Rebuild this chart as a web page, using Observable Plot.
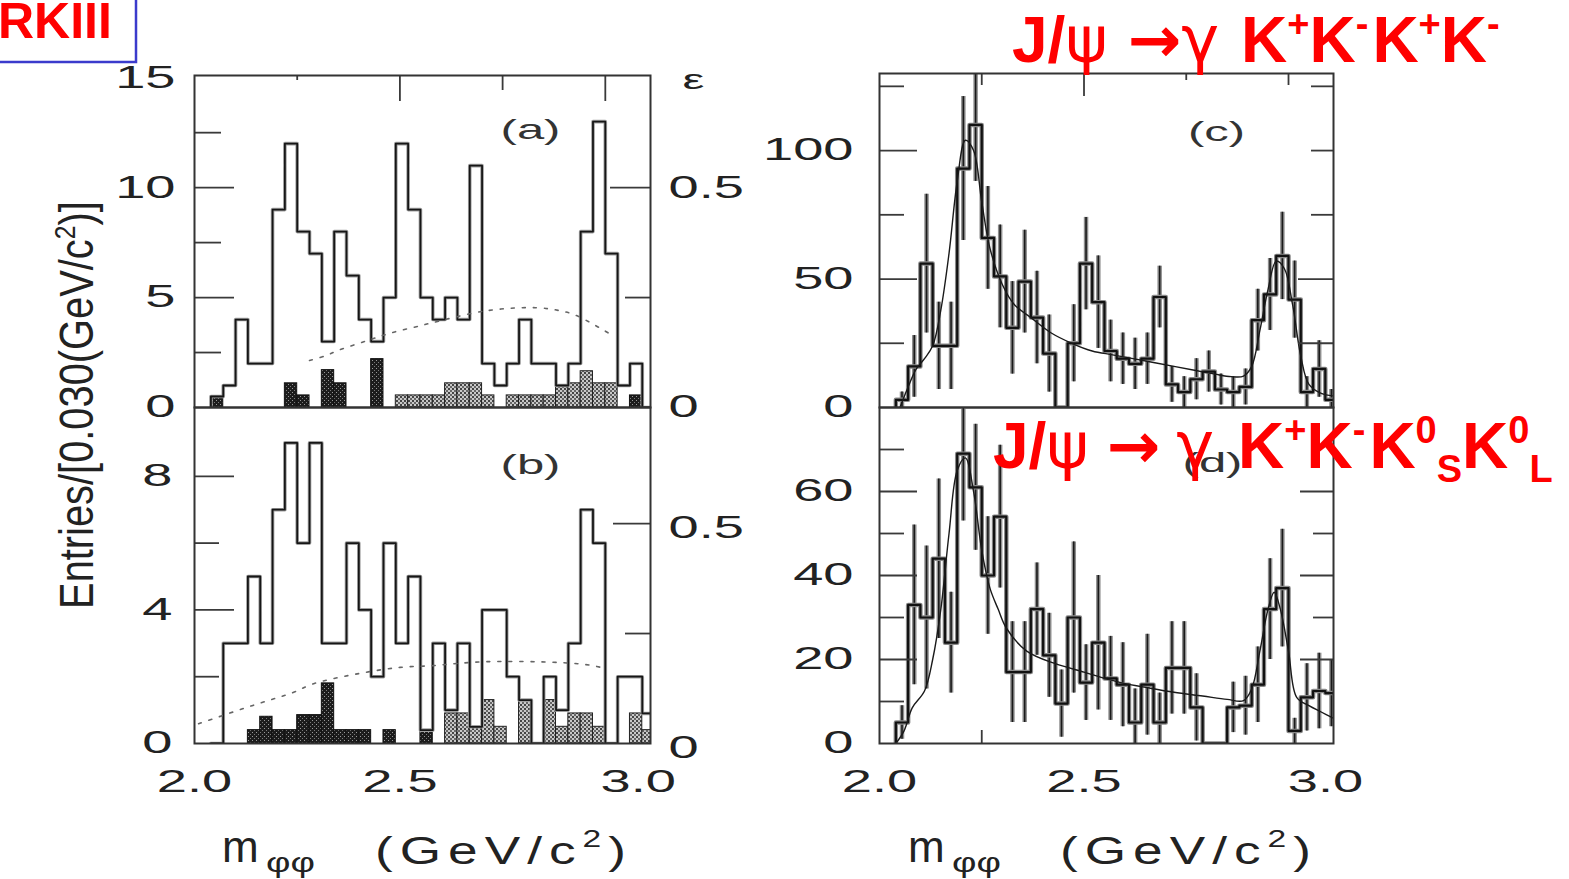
<!DOCTYPE html>
<html>
<head>
<meta charset="utf-8">
<script src="https://cdn.jsdelivr.net/npm/d3@7"></script>
<script src="https://cdn.jsdelivr.net/npm/@observablehq/plot@0.6"></script>
<style>
  html, body { margin: 0; padding: 0; background: #fff; }
  #page { position: relative; width: 1569px; height: 879px; overflow: hidden; background: #fff; }
  #page > svg { position: absolute; left: 0; top: 0; }
</style>
</head>
<body>
<svg width="0" height="0" style="position:absolute">
  <defs>
    <pattern id="shadeDark" width="4" height="4" patternUnits="userSpaceOnUse">
      <rect width="4" height="4" fill="#1c1c1c"/>
      <rect x="0" y="0" width="1" height="1" fill="#9a9a9a"/>
      <rect x="2" y="2" width="1" height="1" fill="#7a7a7a"/>
    </pattern>
    <pattern id="shadeGrey" width="4" height="4" patternUnits="userSpaceOnUse">
      <rect width="4" height="4" fill="#c8c8c8"/>
      <rect x="0" y="0" width="2" height="2" fill="#444"/>
      <rect x="2" y="2" width="2" height="2" fill="#666"/>
    </pattern>
  </defs>
</svg>
<div id="page"></div>
<script>
// ---- binning: lower edges of the 0.030 GeV/c^2 mass bins ----
const binLow = [2.04, 2.07, 2.10, 2.13, 2.16, 2.19, 2.22, 2.25, 2.28, 2.31, 2.34, 2.37,
                2.40, 2.43, 2.46, 2.49, 2.52, 2.55, 2.58, 2.61, 2.64, 2.67, 2.70, 2.73,
                2.76, 2.79, 2.82, 2.85, 2.88, 2.91, 2.94, 2.97, 3.00, 3.03, 3.06, 3.09];
const binWidth = 0.03;

// (a) entries per bin and the shaded sideband estimate
const entriesA  = [0.5, 1, 4, 2, 2, 9, 12, 8, 7, 3, 8, 6, 4, 3, 5, 12, 9, 5, 4, 5, 4, 11,
                   2, 1, 2, 4, 2, 2, 1, 2, 8, 13, 7, 1, 2, 0];
const sidebandA = [0.5, 0, 0, 0, 0, 0, 1.1, 0.55, 0, 1.7, 1.1, 0, 0, 2.2, 0, 0.55, 0.55,
                   0.55, 0.55, 1.1, 1.1, 1.1, 0.55, 0, 0.55, 0.55, 0.55, 0.55, 1, 1.1,
                   1.65, 1.1, 1.1, 0, 0.55, 0];

// (b) entries per bin and the shaded sideband estimate
const entriesB  = [0, 3, 3, 5, 3, 7, 9, 6, 9, 3, 3, 6, 4, 2, 6, 3, 5, 0.4, 3, 1, 3, 0.5,
                   4, 4, 2, 1.3, 0, 2, 1, 3, 7, 6, 0, 2, 2, 0.9];
const sidebandB = [0, 0, 0, 0.4, 0.8, 0.4, 0.4, 0.85, 0.85, 1.8, 0.4, 0.4, 0.4, 0, 0.4,
                   0, 0, 0.4, 0, 0.9, 0.9, 0.5, 1.3, 0.5, 0, 1.3, 0, 1.3, 0.5, 0.9, 0.9,
                   0.5, 0, 0, 0.9, 0.4];

// efficiency curves (right-hand epsilon axis)
const effMassA = [2.28, 2.32, 2.35, 2.42, 2.48, 2.55, 2.58, 2.71, 2.83, 2.89, 2.93, 3.01];
const effA     = [0.107, 0.118, 0.130, 0.152, 0.170, 0.186, 0.193, 0.220, 0.227, 0.220, 0.209, 0.168];
const effMassB = [2.01, 2.14, 2.24, 2.29, 2.40, 2.50, 2.58, 2.64, 2.71, 2.89, 2.97, 3.00];
const effB     = [0.045, 0.086, 0.116, 0.136, 0.159, 0.173, 0.177, 0.182, 0.186, 0.184, 0.177, 0.170];
const effScaleA = 20;     // entries per unit of epsilon, panel (a)
const effScaleB = 13.17;  // entries per unit of epsilon, panel (b)
const epsTicks = [0, 0.5];

// (c) J/psi -> gamma K+K-K+K- : entries, errors and fit
const entriesC = [3, 16, 56, 24, 24, 93, 110, 66, 51, 31, 49, 35, 21, 0, 25, 56, 41, 22,
                  19, 17, 19, 43, 9, 6, 11, 14, 7, 6, 8, 34, 44, 59, 42, 6, 15, 3];
const errorsC  = [3, 12, 27, 17, 17, 28, 22, 20, 20, 18, 20, 18, 15, 0, 15, 18, 18, 12,
                  10, 10, 10, 12, 7, 6, 8, 8, 6, 6, 7, 12, 14, 17, 15, 6, 11, 4];
const fitMassC = [2.05, 2.07, 2.09, 2.11, 2.13, 2.15, 2.17, 2.19, 2.21, 2.23, 2.25, 2.27,
                  2.30, 2.33, 2.37, 2.42, 2.47, 2.52, 2.57, 2.62, 2.67, 2.72, 2.77, 2.82,
                  2.86, 2.89, 2.91, 2.93, 2.95, 2.97, 2.99, 3.01, 3.03, 3.05, 3.08, 3.11];
const fitValueC = [0, 8, 15, 19, 24, 38, 60, 88, 104, 100, 80, 62, 48, 40, 35, 29, 25, 22,
                   20.5, 19, 17.5, 16, 14.5, 13, 12, 12.2, 16, 30, 46, 57, 54, 40, 20, 9, 5.5, 4.5];

// (d) J/psi -> gamma K+K-K0S K0L : entries, errors and fit
const entriesD = [5, 33, 30, 44, 24, 69, 61, 40, 54, 17, 17, 32, 21, 9.5, 30, 14.5, 24,
                  15.5, 14, 5, 14, 5, 18, 18, 8.6, 0, 0, 8.6, 9, 14, 32, 37, 3, 11, 12.5, 12];
const errorsD  = [4, 19, 17, 19, 12, 16, 15, 14, 17, 12, 12, 11, 10, 8, 18, 9, 16, 10, 10,
                  8, 12, 7, 11, 11, 8, 0, 0, 6, 7, 9, 12, 14, 3, 8, 9, 8];
const fitMassD = [2.04, 2.06, 2.08, 2.11, 2.13, 2.15, 2.17, 2.19, 2.21, 2.23, 2.25, 2.27,
                  2.29, 2.31, 2.36, 2.43, 2.50, 2.54, 2.59, 2.66, 2.72, 2.79, 2.85, 2.89,
                  2.91, 2.93, 2.95, 2.965, 2.98, 3.00, 3.02, 3.05, 3.08, 3.11];
const fitValueD = [0, 3, 8.5, 12.5, 20, 32, 50, 65, 68, 60, 46, 37, 32, 27.5, 22, 19, 17,
                   15.8, 14.5, 13.2, 12.2, 11.3, 10.5, 10.2, 13, 22, 32, 36, 32, 22, 11, 9, 7.5, 6];

// axis tick values
const xLabelTicks = [2.0, 2.5];
const xEndTick = [3.0];

// ---------------------------------------------------------------
const W = 1569, H = 879;
const xDomain = [2.0, 3.11];
const page = document.getElementById("page");
const fmt1 = d3.format(".1f");
const epsFormat = v => (v === 0 ? "0" : fmt1(v));
const sans = "'Liberation Sans', Arial, Helvetica, sans-serif";

function makeBins(counts, extra = {}) {
  return binLow.map((lo, i) => {
    const b = {lo, hi: lo + binWidth, mid: lo + binWidth / 2, v: counts[i]};
    for (const [k, arr] of Object.entries(extra)) b[k] = arr[i];
    return b;
  });
}

// outline of a histogram as a stepped path that starts and ends on the baseline
function stepPoints(counts) {
  const last = counts.length - 1;
  const pts = [{m: binLow[0], v: 0}];
  counts.forEach((v, i) => pts.push({m: binLow[i], v}));
  pts.push({m: binLow[last] + binWidth, v: counts[last]});
  pts.push({m: binLow[last] + binWidth, v: 0});
  return pts;
}

// the printed figure uses a horizontally stretched lettering
function widenText(svg, k) {
  svg.querySelectorAll("text").forEach(t => {
    const tr = t.getAttribute("transform") || "";
    t.setAttribute("transform", `${tr} scale(${k},1)`);
  });
}

function panel({box, yDomain, marks, ticks}) {
  const [x0, x1, y0, y1] = box;
  const fw = x1 - x0, fh = y1 - y0;
  const st = {stroke: "#3a3a3a", strokeWidth: 1.8};
  const tickMarks = [];
  for (const [vals, len] of ticks.left || []) tickMarks.push(Plot.tickY(vals, {y: d => d, insetRight: fw - len, ...st}));
  for (const [vals, len] of ticks.right || []) tickMarks.push(Plot.tickY(vals, {y: d => d, insetLeft: fw - len, ...st}));
  for (const [vals, len] of ticks.top || []) tickMarks.push(Plot.tickX(vals, {x: d => d, insetBottom: fh - len, ...st}));
  for (const [vals, len] of ticks.bottom || []) tickMarks.push(Plot.tickX(vals, {x: d => d, insetTop: fh - len, ...st}));
  const svg = Plot.plot({
    width: W, height: H,
    marginLeft: x0, marginRight: W - x1, marginTop: y0, marginBottom: H - y1,
    x: {domain: xDomain, axis: null, label: null},
    y: {domain: yDomain, axis: null, label: null},
    style: {background: "transparent", overflow: "visible", fontFamily: sans, color: "#222"},
    marks: [...marks, ...tickMarks, Plot.frame({stroke: "#333", strokeWidth: 2})]
  });
  widenText(svg, 1.75);
  page.appendChild(svg);
}

function histMarks(counts, sideband, darkTest) {
  const bins = makeBins(counts, {s: sideband}).filter(d => d.s > 0);
  const pts = stepPoints(counts);
  return [
    Plot.rectY(bins.filter(d => darkTest(d.lo)), {x1: "lo", x2: "hi", y: "s", fill: "url(#shadeDark)", stroke: "#111", strokeWidth: 1, clip: true}),
    Plot.rectY(bins.filter(d => !darkTest(d.lo)), {x1: "lo", x2: "hi", y: "s", fill: "url(#shadeGrey)", stroke: "#222", strokeWidth: 1, clip: true}),
    Plot.line(pts, {x: "m", y: "v", curve: "step-after", stroke: "#a0a0a0", strokeWidth: 3.6, clip: true}),
    Plot.line(pts, {x: "m", y: "v", curve: "step-after", stroke: "#161616", strokeWidth: 1.8, clip: true})
  ];
}

function dataMarks(counts, errors, fitMass, fitValue) {
  const bins = makeBins(counts, {e: errors}).filter(d => d.e > 0);
  const pts = stepPoints(counts);
  const fit = fitMass.map((m, i) => ({m, v: fitValue[i]}));
  return [
    Plot.ruleX(bins, {x: "mid", y1: d => Math.max(0, d.v - d.e), y2: d => d.v + d.e, stroke: "#8e8e8e", strokeWidth: 4.5, clip: true}),
    Plot.ruleX(bins, {x: "mid", y1: d => Math.max(0, d.v - d.e), y2: d => d.v + d.e, stroke: "#1a1a1a", strokeWidth: 1.6, clip: true}),
    Plot.line(pts, {x: "m", y: "v", curve: "step-after", stroke: "#8a8a8a", strokeWidth: 4.5, clip: true}),
    Plot.line(pts, {x: "m", y: "v", curve: "step-after", stroke: "#111", strokeWidth: 2.2, clip: true}),
    Plot.line(fit, {x: "m", y: "v", curve: "catmull-rom", stroke: "#1a1a1a", strokeWidth: 1.4, clip: true})
  ];
}

const tickLabelStyle = {tickSize: 0, fontSize: 31, label: null};

// (a)
panel({
  box: [194, 650, 75, 407], yDomain: [0, 15.1],
  marks: [
    ...histMarks(entriesA, sidebandA, m => m < 2.47 || m > 3.05),
    Plot.line(effMassA.map((m, i) => ({m, e: effA[i]})), {x: "m", y: d => d.e * effScaleA, curve: "catmull-rom", stroke: "#666", strokeWidth: 1.6, strokeDasharray: "3,8"}),
    Plot.axisY({ticks: [0, 5, 10, 15], anchor: "left", tickPadding: 19, ...tickLabelStyle}),
    Plot.axisY({ticks: epsTicks.map(e => e * effScaleA), anchor: "right", tickPadding: 18, tickFormat: v => epsFormat(v / effScaleA), ...tickLabelStyle}),
    Plot.text(["ε"], {frameAnchor: "top-right", dx: 43, dy: 5, fontSize: 28, textAnchor: "middle", lineAnchor: "middle", fill: "#222"}),
    Plot.text(["(a)"], {frameAnchor: "top-right", dx: -120, dy: 55, fontSize: 28, textAnchor: "middle", lineAnchor: "middle", fill: "#333"})
  ],
  ticks: {
    left: [[[5, 10], 40], [[2.5, 7.5, 12.5], 27]],
    right: [[[10], 40], [[5], 25]],
    top: [[[2.5, 3.0], 26], [[2.75], 15], [[2.25], 5]]
  }
});

// (b)
panel({
  box: [194, 650, 407, 743], yDomain: [0, 10.06],
  marks: [
    ...histMarks(entriesB, sidebandB, m => m < 2.58),
    Plot.line(effMassB.map((m, i) => ({m, e: effB[i]})), {x: "m", y: d => d.e * effScaleB, curve: "catmull-rom", stroke: "#666", strokeWidth: 1.6, strokeDasharray: "3,8"}),
    Plot.axisY({ticks: [0, 4, 8], anchor: "left", tickPadding: 22, ...tickLabelStyle}),
    Plot.axisY({ticks: epsTicks.map(e => e * effScaleB), anchor: "right", tickPadding: 18, tickFormat: v => epsFormat(v / effScaleB), dy: 5, ...tickLabelStyle}),
    Plot.axisX({ticks: xLabelTicks, anchor: "bottom", tickPadding: 26, tickFormat: fmt1, ...tickLabelStyle}),
    Plot.axisX({ticks: xEndTick, anchor: "bottom", tickPadding: 26, tickFormat: fmt1, dx: 33, ...tickLabelStyle}),
    Plot.text(["(b)"], {frameAnchor: "top-right", dx: -120, dy: 58, fontSize: 28, textAnchor: "middle", lineAnchor: "middle", fill: "#333"})
  ],
  ticks: {
    left: [[[4, 8], 40], [[2, 6], 25]],
    right: [[[0.5 * effScaleB], 37], [[0.25 * effScaleB], 25]]
  }
});

// (c)
panel({
  box: [879, 1333, 73, 407], yDomain: [0, 130],
  marks: [
    ...dataMarks(entriesC, errorsC, fitMassC, fitValueC),
    Plot.axisY({ticks: [0, 50, 100], anchor: "left", tickPadding: 26, ...tickLabelStyle}),
    Plot.text(["(c)"], {frameAnchor: "top-right", dx: -117, dy: 59, fontSize: 28, textAnchor: "middle", lineAnchor: "middle", fill: "#333"})
  ],
  ticks: {
    left: [[[50, 100], 38], [[25, 75, 125], 25]],
    right: [[[25, 50], 35], [[75, 100, 125], 22]],
    top: [[[2.5], 23], [[2.25, 3.0], 12], [[2.75], 7]]
  }
});

// (d)
panel({
  box: [879, 1333, 407, 743], yDomain: [0, 80],
  marks: [
    ...dataMarks(entriesD, errorsD, fitMassD, fitValueD),
    Plot.axisY({ticks: [0, 20, 40, 60], anchor: "left", tickPadding: 26, ...tickLabelStyle}),
    Plot.axisX({ticks: xLabelTicks, anchor: "bottom", tickPadding: 26, tickFormat: fmt1, ...tickLabelStyle}),
    Plot.axisX({ticks: xEndTick, anchor: "bottom", tickPadding: 26, tickFormat: fmt1, dx: 37, ...tickLabelStyle}),
    Plot.text(["(d)"], {frameAnchor: "top-right", dx: -121, dy: 56, fontSize: 28, textAnchor: "middle", lineAnchor: "middle", fill: "#333"})
  ],
  ticks: {
    left: [[[20, 40, 60], 38], [[10, 30, 50, 70], 25]],
    right: [[[20, 40, 60], 33], [[30, 50], 20]],
    bottom: [[[2.25], 13]]
  }
});

// ---- titles, axis titles and experiment tag ----
const annot = `
<svg width="${W}" height="${H}" font-family="${sans}">
  <rect x="-20" y="-20" width="156" height="82" fill="none" stroke="#3b3bcc" stroke-width="2.5"/>
  <text x="-2" y="38" font-weight="bold" font-size="50" fill="#ff0000">RKIII</text>

  <text x="1012" y="62" font-weight="bold" font-size="64" fill="#ff0000">J/<tspan font-family="DejaVu Sans" font-weight="normal">ψ</tspan><tspan dx="20" font-family="DejaVu Sans">→</tspan><tspan font-family="DejaVu Sans" font-weight="normal">γ</tspan><tspan dx="22">K</tspan><tspan font-size="38" dy="-25">+</tspan><tspan dy="25">K</tspan><tspan font-size="38" dy="-25">-</tspan><tspan dx="4" dy="25">K</tspan><tspan font-size="38" dy="-25">+</tspan><tspan dy="25">K</tspan><tspan font-size="38" dy="-25">-</tspan></text>

  <text x="993" y="468" font-weight="bold" font-size="64" fill="#ff0000">J/<tspan font-family="DejaVu Sans" font-weight="normal">ψ</tspan><tspan dx="18" font-family="DejaVu Sans">→</tspan><tspan dx="16" font-family="DejaVu Sans" font-weight="normal">γ</tspan><tspan dx="24">K</tspan><tspan font-size="38" dy="-25">+</tspan><tspan dy="25">K</tspan><tspan font-size="38" dy="-25">-</tspan><tspan dx="4" dy="25">K</tspan><tspan font-size="38" dy="-25">0</tspan><tspan font-size="38" dy="39">S</tspan><tspan dy="-14">K</tspan><tspan font-size="38" dy="-25">0</tspan><tspan font-size="38" dy="39">L</tspan></text>

  <g fill="#222">
    <text x="222" y="862" font-size="44">m</text>
    <text transform="translate(266,872) scale(1.35,1)" font-size="28">φφ</text>
    <text transform="translate(375,864) scale(1.4,1)" font-size="38" letter-spacing="5">(GeV/c<tspan font-size="24" dy="-17">2</tspan><tspan dy="17">)</tspan></text>

    <text x="908" y="862" font-size="44">m</text>
    <text transform="translate(952,872) scale(1.35,1)" font-size="28">φφ</text>
    <text transform="translate(1060,864) scale(1.4,1)" font-size="38" letter-spacing="5">(GeV/c<tspan font-size="24" dy="-17">2</tspan><tspan dy="17">)</tspan></text>

    <text transform="translate(93,405) rotate(-90) scale(0.83,1)" text-anchor="middle" font-size="48">Entries/[0.030(GeV/c<tspan font-size="30" dy="-18">2</tspan><tspan dy="18">)]</tspan></text>
  </g>
</svg>`;
page.insertAdjacentHTML("beforeend", annot);
</script>
</body>
</html>
